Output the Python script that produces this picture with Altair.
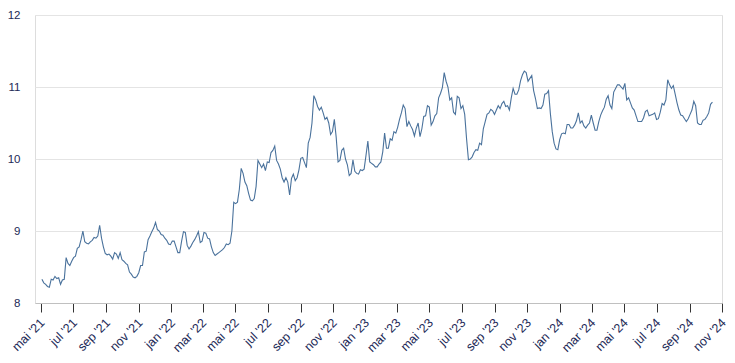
import altair as alt
import pandas as pd

start_date = "2021-05-03"
values = [
    8.33, 8.28, 8.26, 8.23, 8.22, 8.33, 8.32, 8.37, 8.34, 8.35,
    8.26, 8.32, 8.33, 8.63, 8.55, 8.52, 8.58, 8.63, 8.65, 8.76,
    8.78, 8.88, 9.00, 8.85, 8.83, 8.82, 8.85, 8.87, 8.91, 8.90,
    8.93, 9.08, 8.90, 8.78, 8.69, 8.67, 8.68, 8.65, 8.61, 8.70,
    8.68, 8.62, 8.70, 8.60, 8.58, 8.55, 8.53, 8.43, 8.40, 8.36,
    8.35, 8.37, 8.42, 8.52, 8.52, 8.71, 8.72, 8.88, 8.93, 8.99,
    9.04, 9.12, 9.02, 9.00, 8.95, 8.94, 8.90, 8.87, 8.82, 8.81,
    8.86, 8.86, 8.78, 8.70, 8.70, 8.86, 8.99, 8.98, 8.80, 8.75,
    8.79, 8.84, 8.88, 8.93, 8.99, 8.84, 8.86, 8.98, 8.97, 8.90,
    8.89, 8.78, 8.70, 8.66, 8.68, 8.70, 8.72, 8.74, 8.77, 8.82,
    8.81, 8.83, 9.00, 9.40, 9.38, 9.40, 9.58, 9.87, 9.80, 9.68,
    9.63, 9.52, 9.43, 9.42, 9.45, 9.62, 9.98, 9.93, 9.88, 9.93,
    9.84, 9.96, 9.95, 10.09, 10.12, 10.18, 9.98, 9.93, 9.86, 9.74,
    9.68, 9.74, 9.68, 9.50, 9.73, 9.79, 9.70, 9.74, 9.85, 10.01,
    10.02, 9.95, 9.88, 10.22, 10.30, 10.50, 10.88, 10.82, 10.73, 10.68,
    10.72, 10.64, 10.55, 10.58, 10.50, 10.34, 10.38, 10.55, 10.30, 9.96,
    9.98, 10.12, 10.15, 10.00, 9.92, 9.77, 9.80, 9.99, 9.83, 9.80,
    9.79, 9.85, 9.84, 9.86, 10.05, 10.25, 9.96, 9.94, 9.92, 9.89,
    9.89, 9.93, 9.96, 10.10, 10.36, 10.15, 10.15, 10.28, 10.26, 10.38,
    10.36, 10.44, 10.55, 10.64, 10.75, 10.70, 10.45, 10.52, 10.46, 10.41,
    10.32, 10.43, 10.50, 10.31, 10.42, 10.59, 10.60, 10.74, 10.72, 10.47,
    10.52, 10.60, 10.63, 10.85, 10.91, 10.99, 11.20, 11.08, 11.00, 10.82,
    10.85, 10.65, 10.62, 10.87, 10.85, 10.70, 10.74, 10.62, 10.28, 9.99,
    10.00, 10.03, 10.09, 10.13, 10.12, 10.22, 10.20, 10.42, 10.52, 10.62,
    10.64, 10.69, 10.67, 10.62, 10.68, 10.74, 10.70, 10.77, 10.80, 10.73,
    10.74, 10.68, 10.85, 10.98, 10.90, 10.90, 10.96, 11.09, 11.17, 11.22,
    11.20, 11.08, 11.12, 11.16, 10.95, 10.84, 10.70, 10.71, 10.70, 10.75,
    10.90, 10.91, 10.95, 10.63, 10.38, 10.22, 10.14, 10.13, 10.27, 10.35,
    10.36, 10.35, 10.48, 10.48, 10.43, 10.43, 10.47, 10.53, 10.64, 10.50,
    10.53, 10.46, 10.43, 10.47, 10.50, 10.61, 10.50, 10.40, 10.40, 10.52,
    10.61, 10.67, 10.72, 10.83, 10.88, 10.75, 10.70, 10.93, 10.98, 11.03,
    11.03, 11.00, 10.97, 11.05, 10.82, 10.85, 10.78, 10.71, 10.68, 10.60,
    10.52, 10.52, 10.52, 10.57, 10.66, 10.68, 10.60, 10.61, 10.62, 10.64,
    10.55, 10.56, 10.65, 10.77, 10.75, 10.82, 11.10, 11.03, 10.98, 11.02,
    10.90, 10.78, 10.68, 10.61, 10.60, 10.56, 10.52, 10.56, 10.62, 10.68,
    10.80, 10.74, 10.50, 10.48, 10.48, 10.54, 10.55, 10.59, 10.64, 10.76,
    10.79,
]

tick_dates = [
    "2021-05-01", "2021-07-01", "2021-09-01", "2021-11-01",
    "2022-01-01", "2022-03-01", "2022-05-01", "2022-07-01", "2022-09-01", "2022-11-01",
    "2023-01-01", "2023-03-01", "2023-05-01", "2023-07-01", "2023-09-01", "2023-11-01",
    "2024-01-01", "2024-03-01", "2024-05-01", "2024-07-01", "2024-09-01", "2024-11-01",
]
month_names = ["jan", "feb", "mar", "apr", "mai", "jun", "jul", "aug", "sep", "okt", "nov", "des"]
y_ticks = [8, 9, 10, 11, 12]
x_domain = ["2021-04-20", "2024-11-01"]

dates = pd.date_range(start_date, periods=len(values), freq="84h")
df = pd.DataFrame({"date": dates.strftime("%Y-%m-%dT%H:%M:%SZ"), "value": values})


def to_dt(s):
    y, m, d = (int(p) for p in s.split("-"))
    return alt.DateTime(year=y, month=m, date=d, utc=True)


names_js = "[" + ",".join("'" + m + "'" for m in month_names) + "]"
label_expr = names_js + "[utcmonth(datum.value)] + \" '\" + utcFormat(datum.value, '%y')"

font = "Liberation Sans"
text_color = "#1d2a57"

chart = alt.Chart(df).mark_line(color="#4a729c", strokeWidth=1.1).encode(
    x=alt.X(
        "date:T",
        scale=alt.Scale(type="utc", domain=[to_dt(d) for d in x_domain], nice=False),
        axis=alt.Axis(
            title=None,
            values=[to_dt(d) for d in tick_dates],
            labelExpr=label_expr,
            labelAngle=-45,
            labelOverlap=False,
            labelFont=font,
            labelFontSize=12.5,
            labelColor=text_color,
            domainColor="#c0c0c0",
            tickColor="#333333",
            tickSize=9,
            grid=False,
            labelPadding=4,
            labelOffset=-3,
        ),
    ),
    y=alt.Y(
        "value:Q",
        scale=alt.Scale(domain=[8, 12], nice=False, zero=False),
        axis=alt.Axis(
            title=None,
            values=y_ticks,
            labelFont=font,
            labelFontSize=11.5,
            labelColor=text_color,
            domain=False,
            ticks=False,
            gridColor="#e4e4e4",
            labelPadding=15,
        ),
    ),
).properties(
    width=687,
    height=288,
    autosize=alt.AutoSizeParams(type="none"),
    padding={"left": 27, "top": 7, "right": 5, "bottom": 52},
).configure_view(stroke=None).configure(background="white")

chart.save("out.html", embed_options={"renderer": "svg", "actions": False})
